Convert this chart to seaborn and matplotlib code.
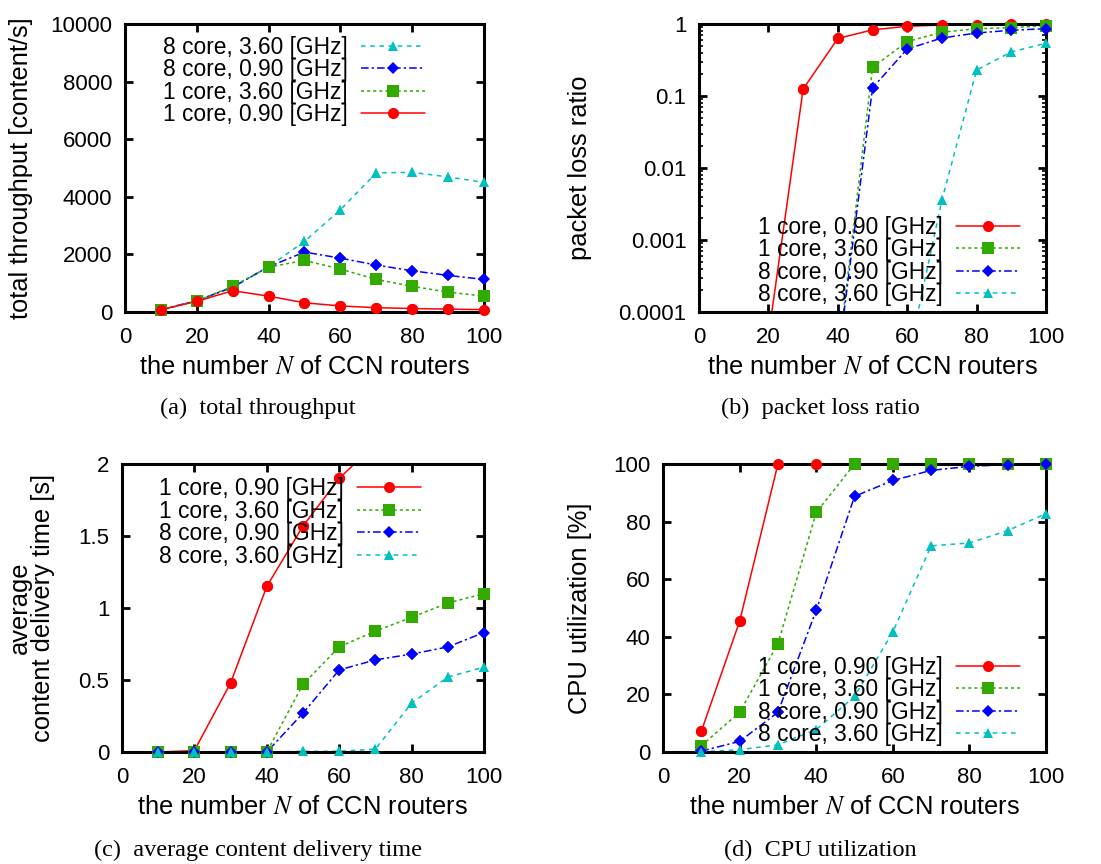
"""Four-panel CCN router benchmark: throughput, loss, delivery time, CPU."""
import numpy as np
import matplotlib
matplotlib.use("Agg")
import matplotlib.pyplot as plt
from matplotlib.ticker import FuncFormatter, LogLocator, NullFormatter
import seaborn as sns

N_ROUTERS = [10, 20, 30, 40, 50, 60, 70, 80, 90, 100]
SERIES = ["1 core, 0.90 [GHz]", "1 core, 3.60 [GHz]",
          "8 core, 0.90 [GHz]", "8 core, 3.60 [GHz]"]

# (a) total throughput [content/s]
thr_1c_090 = [80, 370, 740, 550, 320, 210, 150, 120, 100, 80]
thr_1c_360 = [60, 390, 890, 1560, 1790, 1490, 1130, 890, 690, 550]
thr_8c_090 = [80, 390, 860, 1570, 2080, 1870, 1630, 1430, 1270, 1130]
thr_8c_360 = [80, 390, 860, 1570, 2450, 3550, 4830, 4850, 4690, 4500]

# (b) packet loss ratio (NaN = zero, not drawn on log axis)
loss_1c_090 = [np.nan, 4.6e-5, 0.125, 0.63, 0.83, 0.93, 0.97, 0.98, 0.99, 0.99]
loss_1c_360 = [np.nan, np.nan, np.nan, 2.2e-5, 0.25, 0.57, 0.77, 0.86, 0.89, 0.95]
loss_8c_090 = [np.nan, np.nan, np.nan, 2.1e-5, 0.13, 0.45, 0.64, 0.75, 0.82, 0.86]
loss_8c_360 = [np.nan, np.nan, np.nan, np.nan, np.nan, 2.0e-5, 0.0036, 0.23, 0.41, 0.54]

# (c) average content delivery time [s]
dly_1c_090 = [0.0, 0.01, 0.48, 1.15, 1.57, 1.9, 2.14, np.nan, np.nan, np.nan]
dly_1c_360 = [0.0, 0.0, 0.0, 0.0, 0.47, 0.73, 0.84, 0.935, 1.035, 1.10]
dly_8c_090 = [0.0, 0.0, 0.0, 0.0, 0.27, 0.57, 0.64, 0.68, 0.73, 0.83]
dly_8c_360 = [0.0, 0.0, 0.0, 0.0, 0.005, 0.005, 0.02, 0.34, 0.52, 0.59]

# (d) CPU utilization [%]
cpu_1c_090 = [7.2, 45.4, 100, 100, 100, 100, 100, 100, 100, 100]
cpu_1c_360 = [2.2, 13.8, 37.6, 83.2, 100, 100, 100, 100, 100, 100]
cpu_8c_090 = [0.3, 3.7, 13.8, 49.2, 88.8, 94.3, 97.8, 99.2, 99.8, 100]
cpu_8c_360 = [0.1, 0.8, 2.5, 7.8, 19.3, 41.7, 71.6, 72.6, 76.9, 82.8]

STYLE = {
    SERIES[0]: dict(color="#ff0000", linestyle="-", marker="o", markersize=8),
    SERIES[1]: dict(color="#33aa00", linestyle=(0, (2, 2)), marker="s", markersize=8),
    SERIES[2]: dict(color="#0000ff", linestyle=(0, (5, 2, 1.5, 2)), marker="D", markersize=5.8),
    SERIES[3]: dict(color="#00c0c0", linestyle=(0, (3, 3)), marker="^", markersize=7),
}

LABEL_FS = 18.4
TICK_FS = 16
LEGEND_FS = 16.4


def _setup():
    sns.set_theme(style="ticks")
    plt.rcParams["font.family"] = ["Liberation Sans", "DejaVu Sans"]
    plt.rcParams["mathtext.fontset"] = "stix"
    plt.rcParams["font.size"] = TICK_FS
    for key in ["text.color", "axes.labelcolor", "xtick.color", "ytick.color",
                "xtick.labelcolor", "ytick.labelcolor", "legend.labelcolor"]:
        plt.rcParams[key] = "black"


def _style_axes(ax, ylabel_x):
    for sp in ax.spines.values():
        sp.set_linewidth(2.2)
        sp.set_color("black")
    ax.tick_params(which="major", direction="in", length=6, width=2,
                   top=True, right=True, labelsize=TICK_FS, pad=9,
                   colors="black", labelcolor="black")
    ax.tick_params(axis="x", which="major", pad=11)
    ax.tick_params(which="minor", direction="in", length=3, width=1.2,
                   top=False, right=True, colors="black")
    ax.set_xlim(0, 100)
    ax.set_xticks(range(0, 101, 20))
    ax.set_xlabel("the number $N$ of CCN routers", fontsize=LABEL_FS, color="black")
    ax.xaxis.set_label_coords(0.5, -0.15)
    ax.yaxis.set_label_coords(ylabel_x, 0.5)


def _draw(ax, data, order, ylim, legend_loc, anchor):
    for name in order:
        st = STYLE[name]
        y = np.asarray(data[name], dtype=float)
        sns.lineplot(x=N_ROUTERS, y=y, ax=ax, color=st["color"],
                     linestyle=st["linestyle"], linewidth=1.1,
                     marker=st["marker"], markersize=st["markersize"],
                     markeredgewidth=0, label=name, errorbar=None)
        # markers sitting on the frame are drawn unclipped, as in gnuplot
        inside = (y >= ylim[0]) & (y <= ylim[1])
        ax.plot(np.asarray(N_ROUTERS)[inside], y[inside], ls="none",
                marker=st["marker"], markersize=st["markersize"],
                markeredgewidth=0, color=st["color"], clip_on=False, zorder=5)
    handles, labels = ax.get_legend_handles_labels()
    ax.legend(handles, labels, loc=legend_loc, bbox_to_anchor=anchor,
              frameon=False, markerfirst=False, handlelength=2.8,
              handletextpad=0.6, labelspacing=-0.02, borderpad=0,
              borderaxespad=0, fontsize=LEGEND_FS, labelcolor="black")
    ax.set_ylim(*ylim)


_setup()
fig = plt.figure(figsize=(11.01, 8.64), dpi=100)
ax_a = fig.add_axes([0.1135, 0.6389, 0.3261, 0.3333])
ax_b = fig.add_axes([0.6349, 0.6389, 0.3152, 0.3333])
ax_c = fig.add_axes([0.1108, 0.1296, 0.3288, 0.3333])
ax_d = fig.add_axes([0.6022, 0.1296, 0.3479, 0.3333])

# (a)
_draw(ax_a, dict(zip(SERIES, [thr_1c_090, thr_1c_360, thr_8c_090, thr_8c_360])),
      SERIES[::-1], (0, 10000), "upper right", (0.836, 0.96))
_style_axes(ax_a, -0.256)
ax_a.set_yticks(range(0, 10001, 2000))
ax_a.set_ylabel("total throughput [content/s]", fontsize=LABEL_FS)

# (b)
ax_b.set_yscale("log")
_draw(ax_b, dict(zip(SERIES, [loss_1c_090, loss_1c_360, loss_8c_090, loss_8c_360])),
      SERIES, (1e-4, 1), "lower right", (0.925, 0.02))
_style_axes(ax_b, -0.308)
ax_b.yaxis.set_major_locator(LogLocator(base=10, numticks=10))
ax_b.yaxis.set_minor_locator(LogLocator(base=10, subs=np.arange(2, 10), numticks=10))
ax_b.yaxis.set_minor_formatter(NullFormatter())
ax_b.yaxis.set_major_formatter(FuncFormatter(lambda v, _: f"{v:g}" if v >= 1e-3 else "0.0001"))
ax_b.set_ylabel("packet loss ratio", fontsize=LABEL_FS)

# (c)
_draw(ax_c, dict(zip(SERIES, [dly_1c_090, dly_1c_360, dly_8c_090, dly_8c_360])),
      SERIES, (0, 2), "upper right", (0.826, 0.955))
_style_axes(ax_c, -0.185)
ax_c.set_yticks([0, 0.5, 1, 1.5, 2])
ax_c.yaxis.set_major_formatter(FuncFormatter(lambda v, _: f"{v:g}"))
ax_c.set_ylabel("average\ncontent delivery time [s]", fontsize=LABEL_FS,
                linespacing=0.95)

# (d)
_draw(ax_d, dict(zip(SERIES, [cpu_1c_090, cpu_1c_360, cpu_8c_090, cpu_8c_360])),
      SERIES, (0, 100), "lower right", (0.932, 0.02))
_style_axes(ax_d, -0.185)
ax_d.set_yticks(range(0, 101, 20))
ax_d.set_ylabel("CPU utilization [%]", fontsize=LABEL_FS)

cap = dict(ha="center", va="center", fontsize=17.5, color="black",
           family=["Liberation Serif", "DejaVu Serif"])
fig.text(258 / 1101, 1 - 408 / 864, "(a)  total throughput", **cap)
fig.text(820 / 1101, 1 - 408 / 864, "(b)  packet loss ratio", **cap)
fig.text(258 / 1101, 1 - 850 / 864, "(c)  average content delivery time", **cap)
fig.text(820 / 1101, 1 - 850 / 864, "(d)  CPU utilization", **cap)

fig.savefig("out.png", dpi=100)
